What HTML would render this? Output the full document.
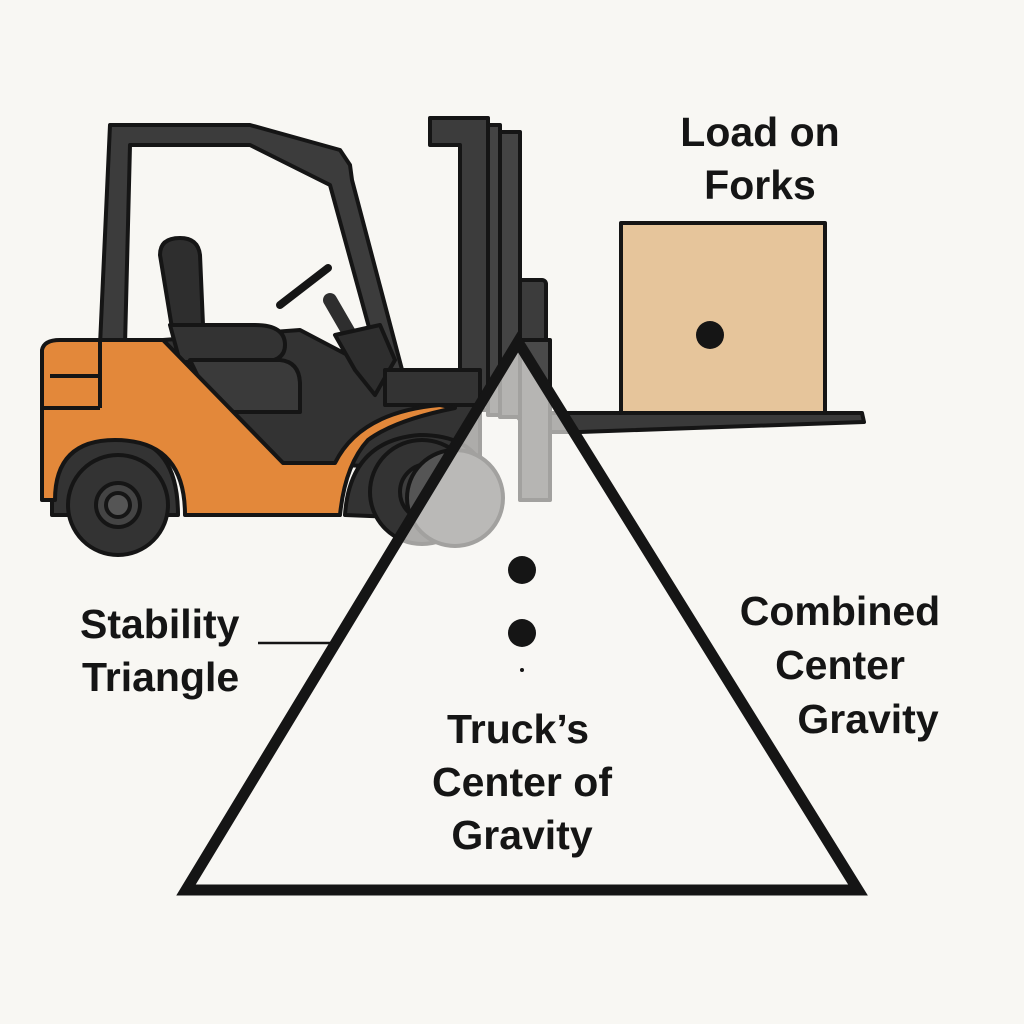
<!DOCTYPE html>
<html><head><meta charset="utf-8"><style>
html,body{margin:0;padding:0;background:#f8f7f3;}
svg{display:block}
text{font-family:"Liberation Sans",sans-serif;font-size:41px;font-weight:bold;fill:#151515;}
</style></head><body>
<svg width="1024" height="1024" viewBox="0 0 1024 1024" xmlns="http://www.w3.org/2000/svg">
<rect width="1024" height="1024" fill="#f8f7f3"/>
<g stroke="#151515" stroke-width="4" stroke-linejoin="round">
<!-- fork -->
<path d="M540 413 L862 413 L864 422 L580 432 L540 432 Z" fill="#3a3a3a"/>
<!-- load -->
<rect x="621" y="223" width="204" height="190" fill="#e6c59b"/>
<!-- carriage -->
<rect x="518" y="280" width="28" height="140" rx="4" fill="#3c3c3c"/>
<rect x="520" y="340" width="30" height="160" fill="#4a4a4a"/>
<!-- mast -->
<rect x="488" y="125" width="12" height="290" fill="#444"/>
<rect x="500" y="132" width="20" height="285" fill="#444"/>
<path d="M430 118 L488 118 L488 410 L460 410 L460 145 L430 145 Z" fill="#3c3c3c"/>
<!-- dark cab floor -->
<path d="M163 340 L300 330 L395 380 L480 380 L480 470 L283 463 Z" fill="#333"/>
<!-- overhead guard -->
<path d="M110 125 L250 125 L340 150 L350 165 L352 180 L410 400 L390 404 L330 185 L250 145 L130 145 L125 345 L100 345 Z" fill="#3c3c3c"/>
<!-- seat -->
<path d="M160 255 Q160 238 180 238 Q198 238 200 255 L203 325 L172 328 Z" fill="#2e2e2e"/>
<path d="M170 325 L255 325 Q285 325 285 345 Q285 362 260 362 L180 362 Z" fill="#333"/>
<path d="M190 360 L280 360 Q300 362 300 385 L300 412 L215 412 Z" fill="#3a3a3a"/>
<!-- steering -->
<path d="M330 300 L352 338" stroke="#2e2e2e" stroke-width="14" fill="none" stroke-linecap="round"/>
<path d="M280 305 L328 268" stroke="#151515" stroke-width="8" fill="none" stroke-linecap="round"/>
<path d="M335 335 L380 325 L395 360 L375 395 L355 370 Z" fill="#2e2e2e"/>
<rect x="385" y="370" width="95" height="35" fill="#333"/>
<!-- rear arch dark -->
<path d="M52 500 Q55 437 115 437 Q178 437 178 515 L52 515 Z" fill="#333"/>
<!-- orange body -->
<path d="M42 350 Q44 340 60 340 L163 340 L283 463 L335 463 Q360 412 440 405 L455 408 Q395 420 368 440 Q345 465 340 515 L185 515 Q185 440 115 440 Q55 440 55 500 L42 500 Z" fill="#e3883a"/>
<line x1="100" y1="340" x2="100" y2="408"/>
<line x1="50" y1="376" x2="100" y2="376"/>
<line x1="42" y1="408" x2="100" y2="408"/>
<!-- front arch dark -->
<path d="M345 515 Q350 440 420 435 Q470 435 485 470 L470 520 Z" fill="#333"/>
<!-- wheels -->
<circle cx="118" cy="505" r="50" fill="#333"/>
<circle cx="118" cy="505" r="22" fill="#444"/>
<circle cx="118" cy="505" r="12" fill="#555"/>
<circle cx="422" cy="492" r="52" fill="#333"/>
<circle cx="428" cy="492" r="28" fill="#3d3d3d"/>
<circle cx="428" cy="492" r="14" fill="#555"/>
<circle cx="455" cy="498" r="48" fill="#555"/>
</g>
<!-- fade inside triangle -->
<polygon points="518,340 182,893 862,893" fill="#f8f7f3" fill-opacity="0.62"/>
<!-- dots -->
<circle cx="710" cy="335" r="14" fill="#151515"/>
<circle cx="522" cy="570" r="14" fill="#151515"/>
<circle cx="522" cy="633" r="14" fill="#151515"/>
<circle cx="522" cy="670" r="2" fill="#151515"/>
<!-- triangle -->
<polygon points="518,342 186,890 858,890" fill="none" stroke="#151515" stroke-width="11" stroke-linejoin="miter"/>
<line x1="258" y1="643" x2="332" y2="643" stroke="#151515" stroke-width="2.5"/>
<!-- labels -->
<text x="760" y="146" text-anchor="middle">Load on</text>
<text x="760" y="199" text-anchor="middle">Forks</text>
<text x="80" y="638">Stability</text>
<text x="82" y="691">Triangle</text>
<text x="840" y="625" text-anchor="middle">Combined</text>
<text x="840" y="679" text-anchor="middle">Center</text>
<text x="868" y="733" text-anchor="middle">Gravity</text>
<text x="518" y="743" text-anchor="middle">Truck’s</text>
<text x="522" y="796" text-anchor="middle">Center of</text>
<text x="522" y="849" text-anchor="middle">Gravity</text>
</svg>
</body></html>
